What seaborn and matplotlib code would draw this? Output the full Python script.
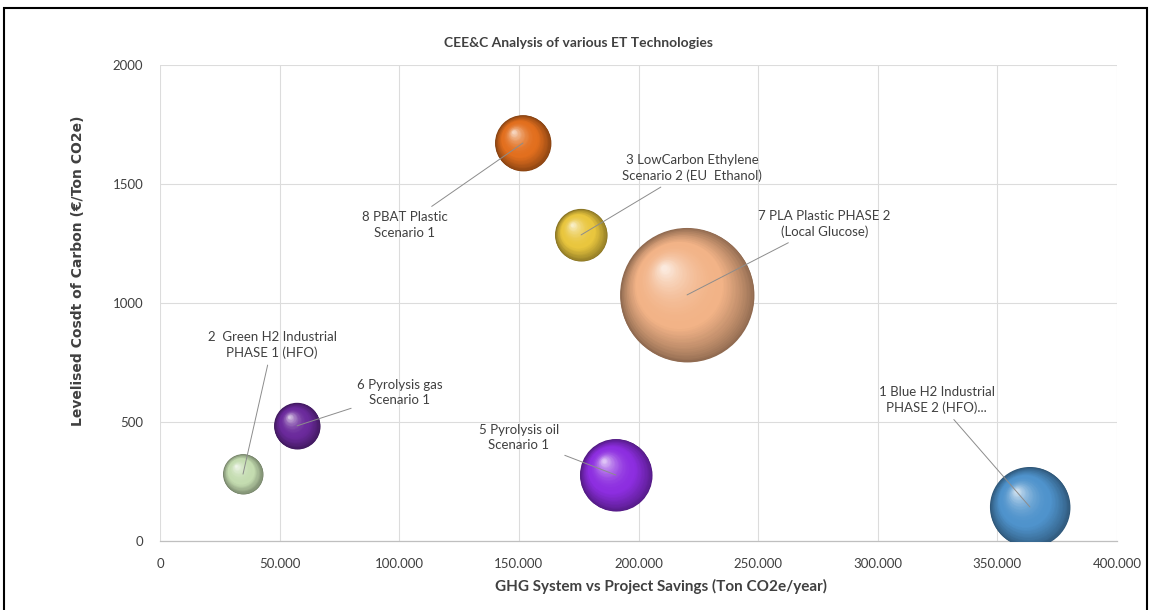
import numpy as np
import pandas as pd
import matplotlib
matplotlib.use("Agg")
import matplotlib.pyplot as plt
import seaborn as sns
from matplotlib.ticker import FuncFormatter, MultipleLocator
from matplotlib.transforms import ScaledTranslation
from matplotlib.colors import to_rgb
from matplotlib.patches import Rectangle

# ---------------- data ----------------
labels = [
    "1 Blue H2 Industrial\nPHASE 2 (HFO)...",
    "2  Green H2 Industrial\nPHASE 1 (HFO)",
    "3 LowCarbon Ethylene\nScenario 2 (EU  Ethanol)",
    "5 Pyrolysis oil\nScenario 1",
    "6 Pyrolysis gas\nScenario 1",
    "7 PLA Plastic PHASE 2\n(Local Glucose)",
    "8 PBAT Plastic\nScenario 1",
]
ghg_savings = [363600, 34700, 176000, 190600, 57300, 220300, 151700]
lcoc = [143, 281, 1286, 277, 484, 1034, 1672]
bubble_size = [1600, 400, 680, 1300, 530, 4490, 780]
colors = ["#4f93cc", "#c4dcb0", "#e9c63e", "#8d2ee0", "#6b2a9c", "#f2b387", "#e26f1e"]
# label offsets (points) relative to bubble
label_dx = [-67, 21, 80, -70, 74, 99, -85]
label_dy = [77, 93, 48, 27, 24, 51, -59]

title = "CEE&C Analysis of various ET Technologies"
xlabel = "GHG System vs Project Savings (Ton CO2e/year)"
ylabel = "Levelised Cosdt of Carbon (\u20ac/Ton CO2e)"

df = pd.DataFrame({"label": labels, "x": ghg_savings, "y": lcoc, "size": bubble_size})

sns.set_style("white")
plt.rcParams["font.family"] = ["Lato", "DejaVu Sans"]

fig = plt.figure(figsize=(11.51, 6.10), dpi=100)
fig.patch.set_facecolor("white")
ax = fig.add_axes([160 / 1151, 1 - 541 / 610, (1117 - 160) / 1151, (541 - 65) / 610])

SCALE = 2.07
smin, smax = SCALE * min(bubble_size), SCALE * max(bubble_size)

RIM_K = 0.6
rim_palette = {l: tuple(np.array(to_rgb(c)) * RIM_K) for l, c in zip(labels, colors)}

sns.scatterplot(data=df, x="x", y="y", hue="label", palette=rim_palette,
                size="size", sizes=(smin, smax), legend=False, linewidth=0,
                ax=ax, zorder=3)

# sphere shading layers
N = 50
for xi, yi, v, c in zip(ghg_savings, lcoc, bubble_size, colors):
    s = SCALE * v
    r = np.sqrt(s) / 2.0  # radius in points
    base = np.array(to_rgb(c))
    rim = base * RIM_K
    light = base + (1 - base) * 0.85
    for k in range(N):
        f = 1 - k / N * 0.97
        if f > 0.65:
            t = ((1 - f) / 0.35) ** 0.8
            col = rim * (1 - t) + base * t
        else:
            t = (0.65 - f) / 0.65
            col = base * (1 - t ** 2.2) + light * (t ** 2.2)
        dx = -(1 - f) * 0.36 * r
        dy = (1 - f) * 0.42 * r
        tr = ax.transData + ScaledTranslation(dx / 72, dy / 72, fig.dpi_scale_trans)
        ax.scatter([xi], [yi], s=s * f * f, color=[np.clip(col, 0, 1)],
                   linewidths=0, transform=tr, zorder=3 + k * 0.001)

# labels with leader lines
for xi, yi, lab, dx, dy in zip(ghg_savings, lcoc, labels, label_dx, label_dy):
    ax.annotate(lab, xy=(xi, yi), xytext=(dx, dy), textcoords="offset points",
                ha="center", va="center", fontsize=9.5, color="#404040",
                linespacing=1.35,
                arrowprops=dict(arrowstyle="-", color="#8c8c8c", lw=0.7,
                                shrinkA=2, shrinkB=0),
                zorder=6)

ax.set_xlim(0, 400000)
ax.set_ylim(0, 2000)
ax.xaxis.set_major_locator(MultipleLocator(50000))
ax.yaxis.set_major_locator(MultipleLocator(500))
ax.xaxis.set_major_formatter(FuncFormatter(lambda v, p: f"{int(round(v)):,}".replace(",", ".")))
ax.yaxis.set_major_formatter(FuncFormatter(lambda v, p: f"{int(round(v))}"))
ax.tick_params(axis="both", length=0, labelsize=9.5, labelcolor="#404040")
ax.tick_params(axis="x", pad=12)
ax.tick_params(axis="y", pad=12)
ax.grid(True, color="#dcdcdc", lw=0.8)
ax.set_axisbelow(True)
for sp in ["top", "right", "left"]:
    ax.spines[sp].set_visible(False)
ax.spines["bottom"].set_color("#bfbfbf")
ax.spines["bottom"].set_linewidth(0.9)
ax.set_xlabel("")
ax.set_ylabel("")

fig.text(0.503, 1 - 43 / 610, title, ha="center", va="center",
         fontsize=10, fontweight="bold", color="#404040")
fig.text(661 / 1151, 1 - 586 / 610, xlabel, ha="center", va="center",
         fontsize=11, fontweight="bold", color="#404040")
fig.text(78 / 1151, 1 - 271 / 610, ylabel, ha="center", va="center",
         rotation=90, fontsize=10, fontweight="bold", color="#404040",
         family=["DejaVu Sans"])

# outer frame
fig.patches.append(Rectangle((4 / 1151, -0.05), (1147 - 4) / 1151, 1.05 - 8 / 610,
                             transform=fig.transFigure, fill=False,
                             edgecolor="black", lw=1.5))

fig.savefig("out.png", dpi=100, facecolor="white")
